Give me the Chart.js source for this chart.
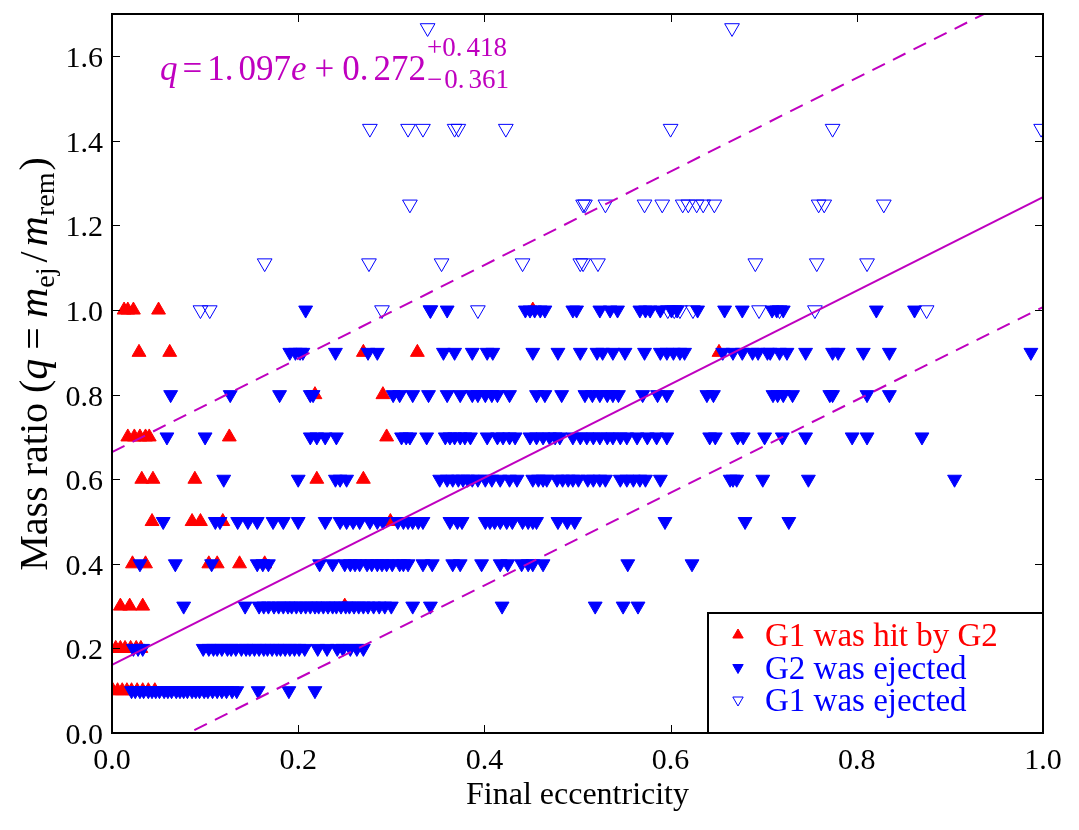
<!DOCTYPE html>
<html>
<head>
<meta charset="utf-8">
<script src="https://cdn.jsdelivr.net/npm/chart.js@4.4.1/dist/chart.umd.min.js"></script>
<style>
    html, body { margin: 0; padding: 0; background: #fff; }
    #wrap { width: 1079px; height: 830px; }
</style>
</head>
<body>
<div id="wrap"><canvas id="massRatioChart" width="1079" height="830"></canvas></div>
<script>
(function () {
    const serif = '"Liberation Serif", "Times New Roman", serif';
    const magenta = '#bf00bf';

    // mass-ratio levels (rows of the plot)
    const qLevelsLow = [0.1, 0.2, 0.3, 0.4, 0.5, 0.6, 0.7, 0.8, 0.9, 1.0];
    const qLevelsHigh = [1.0, 1.111, 1.25, 1.429, 1.667];

    // G1 was hit by G2: eccentricities per row of qLevelsLow
    const hitEcc = [
        [0.001, 0.006, 0.011, 0.016, 0.021, 0.027, 0.033, 0.039, 0.046],
        [0.004, 0.009, 0.014, 0.020, 0.026, 0.031],
        [0.009, 0.019, 0.033, 0.250],
        [0.022, 0.036, 0.104, 0.113, 0.137, 0.164],
        [0.043, 0.086, 0.095, 0.119, 0.299],
        [0.032, 0.044, 0.089, 0.220, 0.270],
        [0.017, 0.024, 0.030, 0.036, 0.040, 0.126, 0.295],
        [0.218, 0.291],
        [0.029, 0.062, 0.270, 0.328, 0.652],
        [0.013, 0.017, 0.023, 0.050, 0.452]
    ];

    // G2 was ejected: eccentricities per row of qLevelsLow
    const g2Ecc = [
        [0.021, 0.025, 0.030, 0.034, 0.039, 0.043, 0.047, 0.051, 0.056, 0.060, 0.064, 0.069, 0.073, 0.077, 0.081,
         0.086, 0.090, 0.094, 0.099, 0.103, 0.108, 0.113, 0.118, 0.123, 0.129, 0.134, 0.157, 0.190, 0.218],
        [0.023, 0.028, 0.033, 0.098, 0.104, 0.109, 0.113, 0.118, 0.124, 0.128, 0.133, 0.139, 0.144, 0.148, 0.153,
         0.158, 0.163, 0.167, 0.172, 0.177, 0.181, 0.186, 0.191, 0.196, 0.201, 0.207, 0.221, 0.231, 0.242, 0.248,
         0.256, 0.263, 0.270],
        [0.077, 0.143, 0.158, 0.163, 0.168, 0.174, 0.179, 0.184, 0.189, 0.193, 0.198, 0.203, 0.208, 0.213, 0.218,
         0.222, 0.227, 0.232, 0.237, 0.241, 0.246, 0.251, 0.255, 0.260, 0.265, 0.270, 0.275, 0.281, 0.287, 0.293,
         0.300, 0.323, 0.342, 0.419, 0.519, 0.549, 0.565],
        [0.030, 0.068, 0.107, 0.156, 0.162, 0.168, 0.223, 0.237, 0.250, 0.256, 0.261, 0.266, 0.274, 0.279, 0.285,
         0.290, 0.295, 0.301, 0.309, 0.313, 0.318, 0.334, 0.344, 0.366, 0.374, 0.397, 0.417, 0.425, 0.440, 0.447,
         0.452, 0.463, 0.554, 0.623],
        [0.055, 0.111, 0.116, 0.135, 0.146, 0.156, 0.173, 0.184, 0.200, 0.229, 0.245, 0.252, 0.259, 0.266, 0.277,
         0.285, 0.291, 0.307, 0.313, 0.318, 0.323, 0.329, 0.334, 0.363, 0.371, 0.376, 0.401, 0.406, 0.411, 0.417,
         0.424, 0.430, 0.441, 0.447, 0.452, 0.456, 0.479, 0.489, 0.497, 0.594, 0.680, 0.727],
        [0.120, 0.200, 0.240, 0.245, 0.252, 0.352, 0.360, 0.366, 0.372, 0.377, 0.382, 0.387, 0.393, 0.401, 0.408,
         0.417, 0.427, 0.435, 0.452, 0.458, 0.463, 0.467, 0.478, 0.484, 0.490, 0.495, 0.501, 0.511, 0.517, 0.524,
         0.530, 0.546, 0.553, 0.560, 0.567, 0.573, 0.589, 0.664, 0.667, 0.671, 0.699, 0.748, 0.905],
        [0.059, 0.100, 0.213, 0.220, 0.229, 0.241, 0.311, 0.316, 0.320, 0.338, 0.358, 0.363, 0.368, 0.374, 0.379,
         0.385, 0.403, 0.414, 0.420, 0.427, 0.433, 0.449, 0.456, 0.463, 0.470, 0.476, 0.481, 0.495, 0.503, 0.510,
         0.517, 0.524, 0.532, 0.538, 0.546, 0.553, 0.564, 0.575, 0.585, 0.596, 0.642, 0.648, 0.672, 0.678, 0.701,
         0.720, 0.745, 0.795, 0.811, 0.870],
        [0.063, 0.127, 0.180, 0.213, 0.216, 0.302, 0.309, 0.323, 0.340, 0.360, 0.374, 0.387, 0.393, 0.401, 0.408,
         0.414, 0.427, 0.456, 0.465, 0.483, 0.508, 0.516, 0.524, 0.532, 0.538, 0.544, 0.570, 0.586, 0.596, 0.639,
         0.646, 0.710, 0.715, 0.721, 0.731, 0.771, 0.774, 0.811, 0.835],
        [0.191, 0.197, 0.202, 0.205, 0.240, 0.275, 0.285, 0.356, 0.368, 0.387, 0.403, 0.409, 0.452, 0.479, 0.503,
         0.521, 0.527, 0.538, 0.551, 0.572, 0.589, 0.596, 0.603, 0.610, 0.615, 0.656, 0.667, 0.677, 0.688, 0.694,
         0.704, 0.707, 0.717, 0.725, 0.745, 0.774, 0.780, 0.807, 0.835, 0.987],
        [0.208, 0.342, 0.360, 0.444, 0.449, 0.454, 0.460, 0.465, 0.495, 0.499, 0.524, 0.535, 0.543, 0.567, 0.573,
         0.578, 0.589, 0.601, 0.607, 0.629, 0.658, 0.677, 0.709, 0.714, 0.721, 0.821, 0.862]
    ];

    // G1 was ejected: eccentricities per row of qLevelsHigh
    const g1Ecc = [
        [0.095, 0.105, 0.290, 0.342, 0.393, 0.597, 0.604, 0.610, 0.624, 0.695, 0.717, 0.755, 0.875],
        [0.164, 0.276, 0.354, 0.441, 0.503, 0.506, 0.522, 0.691, 0.757, 0.811],
        [0.320, 0.506, 0.508, 0.530, 0.572, 0.591, 0.613, 0.619, 0.628, 0.635, 0.647, 0.759, 0.765, 0.829],
        [0.277, 0.318, 0.334, 0.368, 0.372, 0.423, 0.600, 0.774, 0.998],
        [0.339, 0.666]
    ];

    // fit line and its envelope (endpoints)
    const fitEcc = [0, 1];
    const fitQ = [0.161, 1.267];
    const upperQ = [0.664, 1.770];
    const lowerQ = [-0.090, 1.007];

    const xTickValues = [0, 0.2, 0.4, 0.6, 0.8, 1.0];
    const yTickValues = [0, 0.2, 0.4, 0.6, 0.8, 1.0, 1.2, 1.4, 1.6];

    function toPoints(levels, rows) {
        const pts = [];
        rows.forEach((row, i) => {
            row.forEach(e => pts.push({ x: e, y: levels[i] }));
        });
        return pts;
    }

    function toLine(xs, ys) {
        return xs.map((x, i) => ({ x: x, y: ys[i] }));
    }

    // inward ticks on all four sides plus the frame
    const frameTicks = {
        id: 'frameTicks',
        afterDatasetsDraw(chart) {
            const { ctx, chartArea: a, scales } = chart;
            const len = 8;
            ctx.save();
            ctx.strokeStyle = '#000';
            ctx.lineWidth = 1;
            ctx.beginPath();
            xTickValues.forEach(v => {
                const px = Math.round(scales.x.getPixelForValue(v)) + 0.5;
                ctx.moveTo(px, a.bottom); ctx.lineTo(px, a.bottom - len);
                ctx.moveTo(px, a.top); ctx.lineTo(px, a.top + len);
            });
            yTickValues.forEach(v => {
                const py = Math.round(scales.y.getPixelForValue(v)) + 0.5;
                ctx.moveTo(a.left, py); ctx.lineTo(a.left + len, py);
                ctx.moveTo(a.right, py); ctx.lineTo(a.right - len, py);
            });
            ctx.stroke();
            ctx.lineWidth = 2;
            ctx.strokeRect(a.left, a.top, a.right - a.left, a.bottom - a.top);
            ctx.restore();
        }
    };

    function drawPieces(ctx, pieces, x, y) {
        let cx = x;
        pieces.forEach(p => {
            cx += p.pre || 0;
            ctx.font = p.font;
            ctx.fillText(p.t, cx, y + (p.dy || 0));
            cx += ctx.measureText(p.t).width + (p.post || 0);
        });
        return cx;
    }

    function piecesWidth(ctx, pieces) {
        let w = 0;
        pieces.forEach(p => {
            ctx.font = p.font;
            w += (p.pre || 0) + ctx.measureText(p.t).width + (p.post || 0);
        });
        return w;
    }

    const textLayer = {
        id: 'textLayer',
        afterDraw(chart) {
            const { ctx } = chart;
            ctx.save();
            ctx.fillStyle = '#000';
            ctx.textBaseline = 'alphabetic';
            ctx.textAlign = 'left';

            // y axis title with math
            const lbl = '40px ' + serif;
            const lblIt = 'italic 42px ' + serif;
            const lblSub = '28px ' + serif;
            const yPieces = [
                { t: 'Mass ratio (', font: lbl },
                { t: 'q', font: lblIt, post: 9 },
                { t: '=', font: lbl, post: 9 },
                { t: 'm', font: lblIt },
                { t: 'ej', font: lblSub, dy: 7, post: 5 },
                { t: '/', font: lbl, post: 5 },
                { t: 'm', font: lblIt },
                { t: 'rem', font: lblSub, dy: 7, post: 2 },
                { t: ')', font: lbl }
            ];
            const yw = piecesWidth(ctx, yPieces);
            ctx.save();
            ctx.translate(47, 364);
            ctx.rotate(-Math.PI / 2);
            drawPieces(ctx, yPieces, -yw / 2, 0);
            ctx.restore();

            // fit annotation
            const big = '35px ' + serif;
            const bigIt = 'italic 35px ' + serif;
            const script = '27px ' + serif;
            ctx.fillStyle = magenta;
            const fitPieces = [
                { t: 'q', font: bigIt, post: 5 },
                { t: '=', font: big, post: 5 },
                { t: '1.', font: big, post: 5 },
                { t: '097', font: big },
                { t: 'e', font: bigIt, post: 8 },
                { t: '+', font: big, post: 8 },
                { t: '0.', font: big, post: 5 },
                { t: '272', font: big, post: 1 }
            ];
            const sx = drawPieces(ctx, fitPieces, 160, 80);
            drawPieces(ctx, [{ t: '+0.', font: script, post: 4 }, { t: '418', font: script }], sx, 56);
            drawPieces(ctx, [{ t: '\u2212', font: script, post: 2 }, { t: '0.', font: script, post: 4 }, { t: '361', font: script }], sx, 88);
            ctx.restore();
        }
    };

    // legend box in the lower right corner
    const legendBox = {
        id: 'legendBox',
        afterDraw(chart) {
            const { ctx, chartArea: a } = chart;
            const box = { left: 708, top: 613, right: a.right, bottom: a.bottom };
            ctx.save();
            ctx.fillStyle = '#fff';
            ctx.fillRect(box.left, box.top, box.right - box.left, box.bottom - box.top);
            ctx.strokeStyle = '#000';
            ctx.lineWidth = 2;
            ctx.strokeRect(box.left, box.top, box.right - box.left, box.bottom - box.top);
            const rows = chart.data.datasets.filter(d => d.inLegend);
            rows.forEach((ds, i) => {
                const my = box.top + 22 + i * 32.5;
                ctx.fillStyle = ds.backgroundColor;
                ctx.strokeStyle = ds.borderColor;
                ctx.lineWidth = 1;
                Chart.helpers.drawPoint(ctx, {
                    pointStyle: 'triangle',
                    rotation: ds.rotation,
                    radius: 6,
                    borderWidth: 1
                }, 738, my);
                ctx.fillStyle = ds.textColor;
                ctx.font = '33px ' + serif;
                ctx.textBaseline = 'alphabetic';
                ctx.fillText(ds.label, 765, my + 11);
            });
            ctx.restore();
        }
    };

    const hitData = toPoints(qLevelsLow, hitEcc);
    const g2Data = toPoints(qLevelsLow, g2Ecc);
    const g1Data = toPoints(qLevelsHigh, g1Ecc);

    const ctx = document.getElementById('massRatioChart');
    new Chart(ctx, {
        type: 'scatter',
        data: {
            datasets: [
                {
                    label: 'G1 was hit by G2',
                    data: hitData,
                    pointStyle: 'triangle',
                    rotation: 0,
                    pointRadius: 8,
                    backgroundColor: '#ff0000',
                    borderColor: '#ff0000',
                    borderWidth: 1,
                    order: 4,
                    inLegend: true,
                    textColor: '#ff0000'
                },
                {
                    label: 'G2 was ejected',
                    data: g2Data,
                    pointStyle: 'triangle',
                    rotation: 180,
                    pointRadius: 8,
                    backgroundColor: '#0000ff',
                    borderColor: '#0000ff',
                    borderWidth: 1,
                    order: 3,
                    inLegend: true,
                    textColor: '#0000ff'
                },
                {
                    label: 'G1 was ejected',
                    data: g1Data,
                    pointStyle: 'triangle',
                    rotation: 180,
                    pointRadius: 8.5,
                    backgroundColor: 'rgba(0,0,0,0)',
                    borderColor: '#0000ff',
                    borderWidth: 1,
                    order: 2,
                    inLegend: true,
                    textColor: '#0000ff'
                },
                {
                    type: 'line',
                    label: 'fit',
                    data: toLine(fitEcc, fitQ),
                    borderColor: magenta,
                    borderWidth: 2,
                    pointRadius: 0,
                    fill: false,
                    order: 1
                },
                {
                    type: 'line',
                    label: 'upper',
                    data: toLine(fitEcc, upperQ),
                    borderColor: magenta,
                    borderWidth: 2,
                    borderDash: [14, 9],
                    pointRadius: 0,
                    fill: false,
                    order: 1
                },
                {
                    type: 'line',
                    label: 'lower',
                    data: toLine(fitEcc, lowerQ),
                    borderColor: magenta,
                    borderWidth: 2,
                    borderDash: [14, 9],
                    pointRadius: 0,
                    fill: false,
                    order: 1
                }
            ]
        },
        options: {
            responsive: false,
            animation: false,
            devicePixelRatio: 1,
            layout: { padding: { top: 14, right: 36, left: 0, bottom: 0 } },
            plugins: {
                legend: { display: false },
                tooltip: { enabled: false }
            },
            scales: {
                x: {
                    type: 'linear',
                    min: 0,
                    max: 1,
                    afterBuildTicks: scale => { scale.ticks = xTickValues.map(v => ({ value: v })); },
                    afterFit: scale => { scale.height = 97; },
                    grid: { display: false, drawTicks: false },
                    border: { display: false },
                    ticks: {
                        color: '#000',
                        padding: 10,
                        maxRotation: 0,
                        font: { family: serif, size: 30 },
                        callback: v => Number(v).toFixed(1)
                    },
                    title: {
                        display: true,
                        text: 'Final eccentricity',
                        color: '#000',
                        font: { family: serif, size: 32 },
                        padding: { top: 0, bottom: 15 }
                    }
                },
                y: {
                    type: 'linear',
                    min: 0,
                    max: 1.7,
                    afterBuildTicks: scale => { scale.ticks = yTickValues.map(v => ({ value: v })); },
                    afterFit: scale => {
                        scale.width = 112;
                        scale.paddingTop = 0;
                        scale.paddingBottom = 0;
                    },
                    grid: { display: false, drawTicks: false },
                    border: { display: false },
                    ticks: {
                        color: '#000',
                        padding: 9,
                        labelOffset: 3,
                        font: { family: serif, size: 30 },
                        callback: v => Number(v).toFixed(1)
                    }
                }
            }
        },
        plugins: [frameTicks, textLayer, legendBox]
    });
})();
</script>
</body>
</html>
